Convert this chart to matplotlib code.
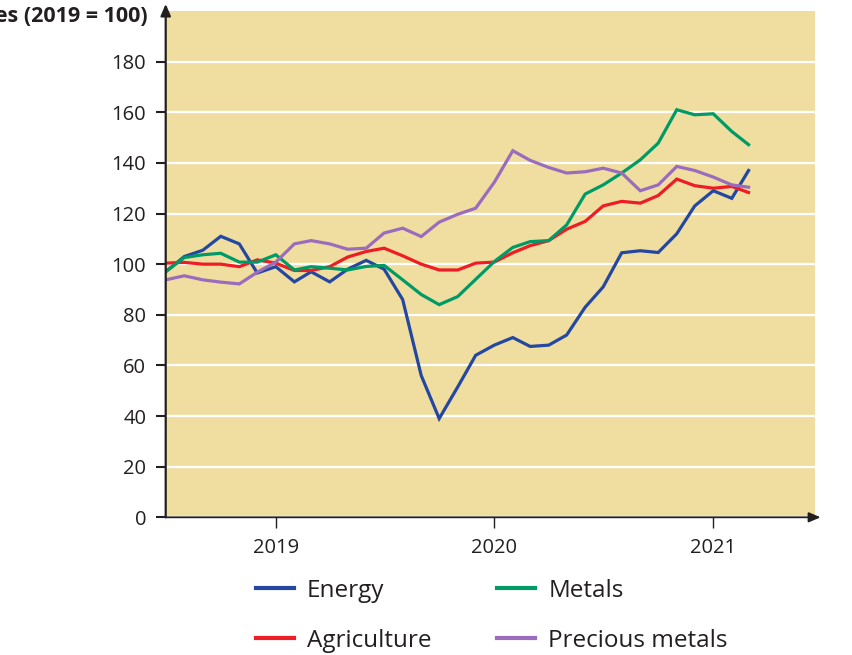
import matplotlib
matplotlib.use("Agg")
import matplotlib.pyplot as plt
import pandas as pd

# ---- data (monthly, Jul 2018 .. Mar 2021), index 2019 = 100 ----
months = pd.date_range("2018-07-01", "2021-03-01", freq="MS")

energy = [97, 103, 105.5, 111, 108, 96.5, 99, 93, 97, 93, 98, 101.5, 98, 86,
          56, 39, 51.5, 64, 68, 71, 67.5, 68, 72, 83, 91, 104.5, 105.3, 104.6,
          112, 123, 129, 126, 137]
agriculture = [100.4, 100.7, 100, 100, 99, 101.7, 100.4, 97.5, 97.5, 99, 102.8,
               105, 106.3, 103.3, 100, 97.7, 97.7, 100.4, 100.8, 104.5, 107.3,
               109.3, 113.8, 116.9, 123, 124.8, 124.1, 127.1, 133.6, 131, 130,
               130.7, 128.3]
metals = [97, 102.6, 103.7, 104.3, 100.8, 100.8, 103.7, 97.7, 99, 98.4, 97.7,
          99.1, 99.5, 93.8, 88, 84, 87.2, 94, 101, 106.6, 108.9, 109.3, 115.5,
          127.7, 131.3, 136, 141.2, 147.8, 161, 159, 159.4, 152.4, 147.2]
precious = [93.8, 95.4, 93.8, 92.9, 92.2, 96.8, 100.8, 108, 109.3, 108, 105.9,
            106.3, 112.3, 114.2, 110.9, 116.6, 119.7, 122.1, 132.3, 144.8, 141,
            138.2, 136, 136.5, 137.9, 136, 129, 131.3, 138.6, 137, 134.4, 131.3,
            130.4]

series_names = ["Energy", "Agriculture", "Metals", "Precious metals"]
series_vals = [energy, agriculture, metals, precious]
series_cols = ["#2447A0", "#EE1C25", "#009A66", "#9B6BBE"]

y_ticks = [0, 20, 40, 60, 80, 100, 120, 140, 160, 180]
x_tick_dates = ["2019-01-01", "2020-01-01", "2021-01-01"]
x_tick_labels = ["2019", "2020", "2021"]
y_title = "Prices (2019 = 100)"

# ---- figure ----
plt.rcParams["font.family"] = ["Open Sans", "DejaVu Sans"]
W, H = 852, 655
fig = plt.figure(figsize=(W / 100, H / 100), dpi=100)
L, R, T, B = 165.7, 815, 11, 517.3
ax = fig.add_axes([L / W, 1 - B / H, (R - L) / W, (B - T) / H])
ax.set_facecolor("#F0DEA0")

for name, vals, col in zip(series_names, series_vals, series_cols):
    ax.plot(months, vals, color=col, lw=2.3, label=name, zorder=3,
            solid_joinstyle="miter")

ax.set_ylim(0, 200)
ax.set_xlim(pd.Timestamp("2018-07-01"), pd.Timestamp("2021-06-20"))
ax.set_yticks(y_ticks)
ax.set_xticks([pd.Timestamp(d) for d in x_tick_dates])
ax.set_xticklabels(x_tick_labels)

ax.grid(axis="y", color="white", lw=1.6)
ax.grid(axis="x", visible=False)
ax.set_axisbelow(True)
for s in ax.spines.values():
    s.set_visible(False)

ax.tick_params(axis="y", direction="out", length=7, width=1.5, color="#231F20",
               labelsize=14.5, labelcolor="#231F20", pad=7)
ax.tick_params(axis="x", direction="out", length=8, width=1.0, color="#231F20",
               labelsize=14.5, labelcolor="#231F20", pad=7)

# axis lines with arrowheads
ax.annotate("", xy=(0, 1.014), xytext=(0, 0), xycoords="axes fraction",
            textcoords="axes fraction",
            arrowprops=dict(arrowstyle="-|>,head_length=0.7,head_width=0.3",
                            color="#231F20", lw=1.6, shrinkA=0, shrinkB=0))
ax.annotate("", xy=(1.0085, 0), xytext=(0, 0), xycoords="axes fraction",
            textcoords="axes fraction",
            arrowprops=dict(arrowstyle="-|>,head_length=0.7,head_width=0.3",
                            color="#231F20", lw=1.3, shrinkA=0, shrinkB=0))

fig.text(148 / W, 1 - 16 / H, y_title, ha="right", va="center",
         fontsize=15.5, fontweight="bold", color="#231F20")

leg = fig.legend(loc="upper left", bbox_to_anchor=(256 / W, 1 - 579 / H),
                 ncol=2, frameon=False, fontsize=17.5, handlelength=1.55,
                 handletextpad=0.55, columnspacing=2.7, labelspacing=1.05,
                 borderpad=0, borderaxespad=0, labelcolor="#231F20")
for line in leg.get_lines():
    line.set_linewidth(3)

fig.savefig("out.png", dpi=100)
